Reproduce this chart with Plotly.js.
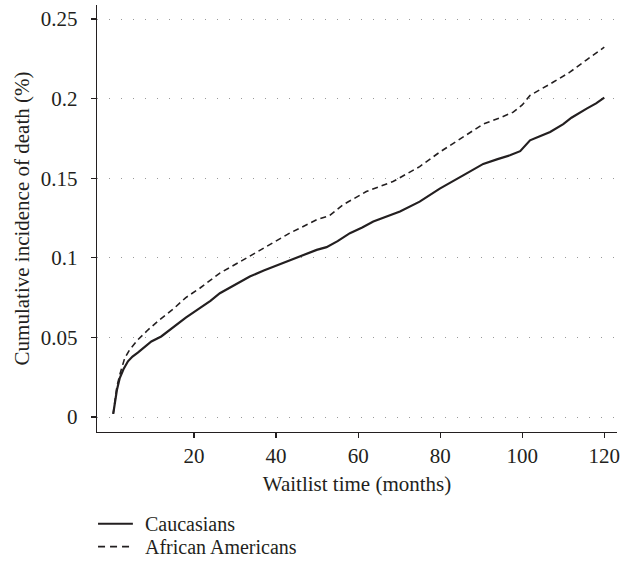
<!DOCTYPE html>
<html>
<head>
<meta charset="utf-8">
<script src="https://cdn.plot.ly/plotly-3.0.1.min.js"></script>
<style>html,body{margin:0;padding:0;background:#fff;}#chart{width:630px;height:565px;}</style>
</head>
<body>
<div id="chart"></div>
<script>
const caucX = [0.3, 0.7, 1.2, 1.9, 2.8, 3.9, 5, 6.3, 8, 9.6, 12, 15.3, 18, 21.4, 24, 26.3, 30, 33.6, 37, 41.7, 45, 49.9, 52.3, 55, 58, 61, 63.7, 67, 70.2, 75, 79.9, 85.6, 90.5, 94, 97, 99.5, 101.9, 104, 106.8, 110, 112, 115.7, 118, 120];
const caucY = [0.002, 0.010, 0.017, 0.0245, 0.030, 0.035, 0.038, 0.0405, 0.044, 0.0475, 0.0506, 0.057, 0.0625, 0.0684, 0.073, 0.0778, 0.083, 0.0883, 0.092, 0.0967, 0.100, 0.105, 0.1067, 0.1105, 0.1155, 0.119, 0.1228, 0.126, 0.1291, 0.1353, 0.1435, 0.1518, 0.159, 0.162, 0.1644, 0.167, 0.1738, 0.176, 0.179, 0.184, 0.188, 0.1937, 0.197, 0.2006];
const afrX = [0.3, 0.7, 1.2, 1.9, 3.1, 4.3, 6.3, 8.8, 11.6, 15, 18, 21.4, 26.3, 32, 37.7, 43.3, 49.9, 53, 56.3, 62, 68.5, 75, 79.9, 85.6, 90.5, 94.6, 97.8, 100, 101.9, 107.6, 111.6, 115.7, 120];
const afrY = [0.002, 0.011, 0.019, 0.0266, 0.037, 0.0422, 0.0485, 0.0548, 0.0611, 0.068, 0.075, 0.0809, 0.0904, 0.0987, 0.1071, 0.1155, 0.1239, 0.1265, 0.1333, 0.1416, 0.1479, 0.1573, 0.1664, 0.1758, 0.184, 0.188, 0.1915, 0.196, 0.202, 0.2104, 0.2166, 0.2244, 0.2323];
const seriesNames = ["Caucasians", "African Americans"];
const xTicks = [20, 40, 60, 80, 100, 120];
const yTicks = [0, 0.05, 0.1, 0.15, 0.2, 0.25];
const yTickLabels = ["0", "0.05", "0.1", "0.15", "0.2", "0.25"];

const ink = "#231f20";
const font = {family: "Liberation Serif, DejaVu Serif, serif", size: 21, color: ink};
const legendFont = {family: "Liberation Serif, DejaVu Serif, serif", size: 20, color: ink};
const lineStyles = [
  {color: ink, width: 2.2},
  {color: ink, width: 1.6, dash: "6px,4px"}
];

const traces = [
  {x: caucX, y: caucY, name: seriesNames[0], mode: "lines", type: "scatter", line: lineStyles[0]},
  {x: afrX, y: afrY, name: seriesNames[1], mode: "lines", type: "scatter", line: lineStyles[1]}
];

// legend keys drawn below the plot (paper coordinates relative to plot area)
const legendRowsY = [-0.2146, -0.2684];
const shapes = seriesNames.map((n, i) => ({
  type: "line", xref: "paper", yref: "paper", x0: 0.002, x1: 0.069,
  y0: legendRowsY[i], y1: legendRowsY[i],
  line: {color: ink, width: i === 0 ? 2 : 1.6, dash: i === 0 ? "solid" : "7px,5px"}
}));
const annotations = seriesNames.map((n, i) => ({
  text: n, xref: "paper", yref: "paper", x: 0.091, y: legendRowsY[i],
  xanchor: "left", yanchor: "middle", showarrow: false, font: legendFont,
  height: 20, valign: "middle", borderpad: 0
}));

const layout = {
  width: 630, height: 565,
  margin: {l: 97, r: 13, t: 5, b: 133, autoexpand: false},
  paper_bgcolor: "#fff", plot_bgcolor: "#fff",
  font: font,
  showlegend: false,
  shapes: shapes,
  annotations: annotations,
  xaxis: {
    range: [-3.65, 123.1], tickvals: xTicks, ticks: "outside", ticklen: 5, tickwidth: 1.2,
    tickcolor: ink, showline: true, linecolor: ink, linewidth: 1.2,
    showgrid: false, zeroline: false, automargin: false,
    title: {text: "Waitlist time (months)", font: font, standoff: 8},
    tickfont: font
  },
  yaxis: {
    range: [-0.0094, 0.2588], tickvals: yTicks, ticktext: yTickLabels, ticks: "outside",
    ticklen: 5, tickwidth: 1.2, tickcolor: ink, showline: true, linecolor: ink,
    linewidth: 1.2, showgrid: true, gridcolor: "#9a9a9a", gridwidth: 1, griddash: "1px,11px",
    zeroline: false, automargin: false, ticklabelstandoff: 9,
    title: {text: "Cumulative incidence of death (%)", font: font, standoff: 5},
    tickfont: font
  }
};

Plotly.newPlot("chart", traces, layout, {displayModeBar: false, staticPlot: true});
</script>
</body>
</html>
